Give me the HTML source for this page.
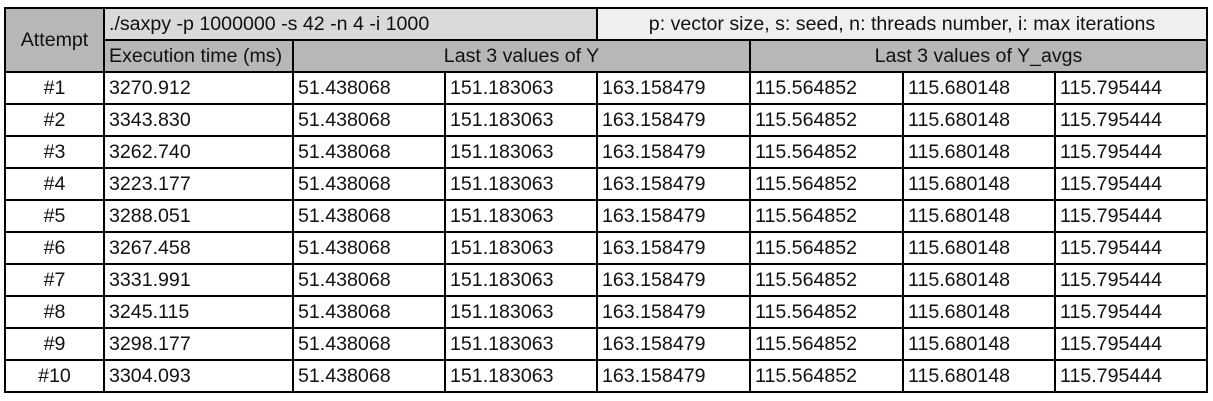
<!DOCTYPE html>
<html><head><meta charset="utf-8">
<style>
html,body{margin:0;padding:0;background:#fff;width:1213px;height:401px;overflow:hidden}
#t{position:relative;width:1213px;height:401px;font-family:"Liberation Sans",Arial,sans-serif;font-size:19.6px;color:#111}
.c{position:absolute;box-sizing:border-box;border:2px solid #000;white-space:nowrap;overflow:hidden;display:flex;align-items:center;padding-left:4px}
.ctr{justify-content:center;padding-left:0}
</style></head>
<body>
<div id="t"></div>
<script>
const colX=[5,104,293,445,597,750,903,1055,1207];
const rowY=[8,40,72,104,136,168,200,232,264,296,328,360,392];
const attempts=["#1","#2","#3","#4","#5","#6","#7","#8","#9","#10"];
const execTimes=["3270.912","3343.830","3262.740","3223.177","3288.051","3267.458","3331.991","3245.115","3298.177","3304.093"];
const lastY=["51.438068","151.183063","163.158479"];
const lastYavg=["115.564852","115.680148","115.795444"];
const t=document.getElementById('t');
function cell(x0,x1,y0,y1,txt,bg,center,name){
  const d=document.createElement('div');
  d.className='c'+(center?' ctr':'');
  d.style.left=(x0-1)+'px';d.style.top=(y0-1)+'px';
  d.style.width=(x1-x0+2)+'px';d.style.height=(y1-y0+2)+'px';
  d.style.background=bg;
  d.textContent=txt;
  
  
  t.appendChild(d);
}
cell(colX[0],colX[1],rowY[0],rowY[2],'Attempt','#b7b7b7',true,'attempt-header');
cell(colX[1],colX[4],rowY[0],rowY[1],'./saxpy -p 1000000 -s 42 -n 4 -i 1000','#d9d9d9',false,'command-header');
cell(colX[4],colX[8],rowY[0],rowY[1],'p: vector size, s: seed, n: threads number, i: max iterations','#efefef',true,'params-legend-header');
cell(colX[1],colX[2],rowY[1],rowY[2],'Execution time (ms)','#b7b7b7',false,'execution-time-header');
cell(colX[2],colX[5],rowY[1],rowY[2],'Last 3 values of Y','#b7b7b7',true,'last-y-header');
cell(colX[5],colX[8],rowY[1],rowY[2],'Last 3 values of Y_avgs','#b7b7b7',true,'last-yavgs-header');
for(let i=0;i<attempts.length;i++){
  const y0=rowY[i+2],y1=rowY[i+3];
  cell(colX[0],colX[1],y0,y1,attempts[i],'#fff',true,'attempt-cell');
  cell(colX[1],colX[2],y0,y1,execTimes[i],'#fff',false,'execution-time-cell');
  for(let j=0;j<3;j++) cell(colX[2+j],colX[3+j],y0,y1,lastY[j],'#fff',false,'y-value-cell');
  for(let j=0;j<3;j++) cell(colX[5+j],colX[6+j],y0,y1,lastYavg[j],'#fff',false,'yavg-value-cell');
}
</script>
</body></html>
